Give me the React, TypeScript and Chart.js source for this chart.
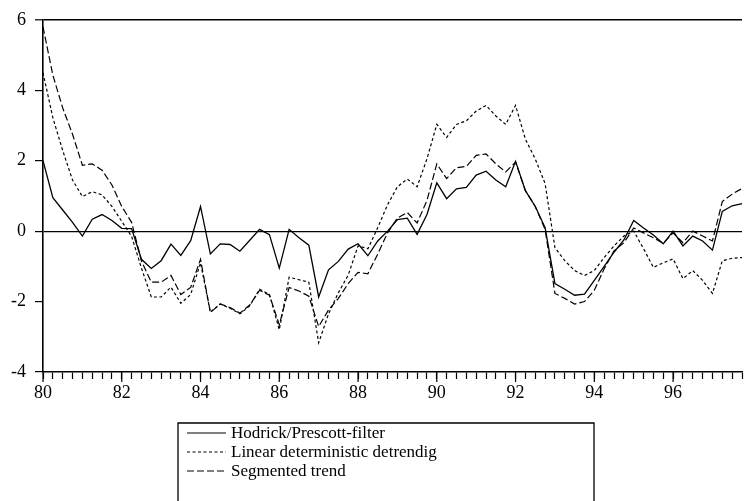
import React, { useEffect, useRef } from 'react';
import { Chart, registerables } from 'chart.js';

Chart.register(...registerables);

// Quarterly observations 1980Q1 .. 1997Q4 (x value in years, e.g. 80.25 = 1980Q2)
const quarters: number[] = Array.from({ length: 72 }, (_, i) => 80 + i / 4);

const xLabelYears = [80, 82, 84, 86, 88, 90, 92, 94, 96];
const yTickValues = [-4, -2, 0, 2, 4, 6];

const hodrickPrescott = [
  2.0, 0.95, 0.6, 0.25, -0.14, 0.34, 0.47, 0.3, 0.08, 0.07,
  -0.8, -1.06, -0.84, -0.37, -0.69, -0.27, 0.7, -0.65, -0.36, -0.38,
  -0.57, -0.26, 0.05, -0.1, -1.05, 0.05, -0.19, -0.4, -1.87, -1.1,
  -0.86, -0.51, -0.36, -0.7, -0.28, 0.0, 0.33, 0.37, -0.09, 0.47,
  1.37, 0.92, 1.2, 1.24, 1.59, 1.7, 1.45, 1.26, 1.98, 1.15,
  0.7, 0.1, -1.49, -1.65, -1.82, -1.79, -1.4, -1.0, -0.6, -0.25,
  0.3, 0.09, -0.11, -0.36, 0.0, -0.42, -0.14, -0.28, -0.54, 0.56,
  0.72, 0.78,
];

const linearDetrending = [
  4.5, 3.22, 2.29, 1.45, 0.98, 1.12, 1.03, 0.7, 0.28, -0.15,
  -1.05, -1.87, -1.87, -1.59, -2.05, -1.8, -0.9, -2.3, -2.07, -2.19,
  -2.35, -2.12, -1.65, -1.8, -2.8, -1.31, -1.38, -1.45, -3.17, -2.35,
  -1.75, -1.25, -0.42, -0.5, 0.1, 0.75, 1.26, 1.48, 1.26, 2.05,
  3.03, 2.66, 3.03, 3.13, 3.41, 3.57, 3.27, 3.03, 3.57, 2.61,
  2.05, 1.35, -0.47, -0.84, -1.12, -1.26, -1.12, -0.75, -0.42, -0.14,
  0.0, -0.5, -1.03, -0.9, -0.79, -1.35, -1.12, -1.4, -1.77, -0.84,
  -0.77, -0.75,
];

const segmentedTrend = [
  5.8, 4.43, 3.5, 2.75, 1.87, 1.91, 1.73, 1.31, 0.7, 0.25,
  -0.85, -1.45, -1.45, -1.26, -1.8, -1.6, -0.8, -2.31, -2.07, -2.17,
  -2.33, -2.1, -1.68, -1.82, -2.66, -1.6, -1.7, -1.85, -2.71, -2.24,
  -1.91, -1.49, -1.17, -1.21, -0.65, -0.05, 0.37, 0.53, 0.23, 0.87,
  1.91, 1.49, 1.8, 1.84, 2.15, 2.19, 1.91, 1.68, 1.96, 1.15,
  0.7, 0.05, -1.77, -1.91, -2.07, -2.0, -1.68, -1.07, -0.56, -0.33,
  0.09, -0.05, -0.19, -0.35, -0.05, -0.33, 0.0, -0.14, -0.28, 0.84,
  1.05, 1.21,
];

const seriesNames = [
  'Hodrick/Prescott-filter',
  'Linear deterministic detrendig',
  'Segmented trend',
];

const FONT = "'Liberation Serif', 'Times New Roman', serif";
const dashes: number[][] = [[], [3, 2.5], [7, 3]];

const boxLegendPlugin = {
  id: 'boxLegend',
  afterDraw(chart: any) {
    const ctx = chart.ctx as CanvasRenderingContext2D;
    ctx.save();
    ctx.strokeStyle = '#000';
    ctx.lineWidth = 1.3;
    ctx.setLineDash([]);
    ctx.beginPath();
    ctx.moveTo(178, 520);
    ctx.lineTo(178, 423);
    ctx.lineTo(594, 423);
    ctx.lineTo(594, 520);
    ctx.stroke();
    ctx.font = `17px ${FONT}`;
    ctx.fillStyle = '#000';
    ctx.textBaseline = 'middle';
    ctx.textAlign = 'left';
    seriesNames.forEach((name, i) => {
      const y = 433 + i * 19;
      ctx.setLineDash(dashes[i]);
      ctx.lineWidth = 1.1;
      ctx.beginPath();
      ctx.moveTo(187, y);
      ctx.lineTo(226, y);
      ctx.stroke();
      ctx.fillText(name, 231, y + 1);
    });
    ctx.restore();
  },
};

// longer tick marks for the labelled (even) years
const majorTickPlugin = {
  id: 'majorTicks',
  afterDraw(chart: any) {
    const xs = chart.scales.x;
    const ctx = chart.ctx as CanvasRenderingContext2D;
    const bottom = chart.chartArea.bottom;
    ctx.save();
    ctx.strokeStyle = '#000';
    ctx.lineWidth = 1.2;
    quarters.forEach((q, i) => {
      if (xLabelYears.includes(q)) {
        const px = xs.getPixelForValue(i);
        ctx.beginPath();
        ctx.moveTo(px, bottom);
        ctx.lineTo(px, bottom + 10);
        ctx.stroke();
      }
    });
    ctx.restore();
  },
};

export default function App() {
  const ref = useRef<HTMLCanvasElement | null>(null);

  useEffect(() => {
    document.body.style.margin = '0';
    const canvas = ref.current;
    if (!canvas) return;
    const chart = new Chart(canvas, {
      type: 'line',
      data: {
        labels: quarters.map((q) => String(q)),
        datasets: [
          {
            label: seriesNames[0],
            data: hodrickPrescott,
            borderColor: '#000',
            borderWidth: 1.3,
            borderDash: dashes[0],
            pointRadius: 0,
            fill: false,
          },
          {
            label: seriesNames[1],
            data: linearDetrending,
            borderColor: '#000',
            borderWidth: 1.2,
            borderDash: dashes[1],
            pointRadius: 0,
            fill: false,
          },
          {
            label: seriesNames[2],
            data: segmentedTrend,
            borderColor: '#000',
            borderWidth: 1.2,
            borderDash: dashes[2],
            pointRadius: 0,
            fill: false,
          },
        ],
      },
      options: {
        animation: false,
        responsive: false,
        maintainAspectRatio: false,
        layout: { padding: { top: 15, right: 0, left: 0, bottom: 0 } },
        elements: { line: { tension: 0 }, point: { radius: 0 } },
        plugins: {
          legend: { display: false },
          tooltip: { enabled: false },
          title: { display: false },
        },
        scales: {
          x: {
            type: 'category',
            offset: false,
            grid: {
              display: true,
              drawOnChartArea: false,
              drawTicks: true,
              tickLength: 7,
              tickColor: '#000',
              tickWidth: 1.2,
            },
            border: { display: true, color: '#000', width: 1.6 },
            ticks: {
              autoSkip: false,
              maxRotation: 0,
              minRotation: 0,
              padding: 3,
              color: '#000',
              font: { family: FONT, size: 18 },
              callback: (_v: any, idx: number) =>
                xLabelYears.includes(quarters[idx]) ? String(quarters[idx]) : '',
            },
            afterFit: (s: any) => {
              s.height = 129;
            },
          },
          y: {
            type: 'linear',
            min: -4,
            max: 6,
            afterBuildTicks: (s: any) => {
              s.ticks = yTickValues.map((v) => ({ value: v }));
            },
            ticks: {
              color: '#000',
              padding: 9,
              font: { family: FONT, size: 18 },
              callback: (v: any) => String(v),
            },
            grid: {
              display: true,
              drawTicks: true,
              tickLength: 8,
              tickColor: '#000',
              tickWidth: 1.2,
              color: (c: any) =>
                c.tick && (c.tick.value === 0 || c.tick.value === 6) ? '#000' : 'rgba(0,0,0,0)',
              lineWidth: (c: any) => (c.tick && c.tick.value === 6 ? 1.6 : 1.2),
            },
            border: { display: true, color: '#000', width: 1.6 },
            afterFit: (s: any) => {
              s.width = 43;
            },
          },
        },
      },
      plugins: [boxLegendPlugin, majorTickPlugin],
    } as any);
    return () => chart.destroy();
  }, []);

  return (
    <div style={{ width: 745, height: 501, position: 'relative' }}>
      <canvas ref={ref} width={745} height={501} style={{ display: 'block' }} />
    </div>
  );
}
